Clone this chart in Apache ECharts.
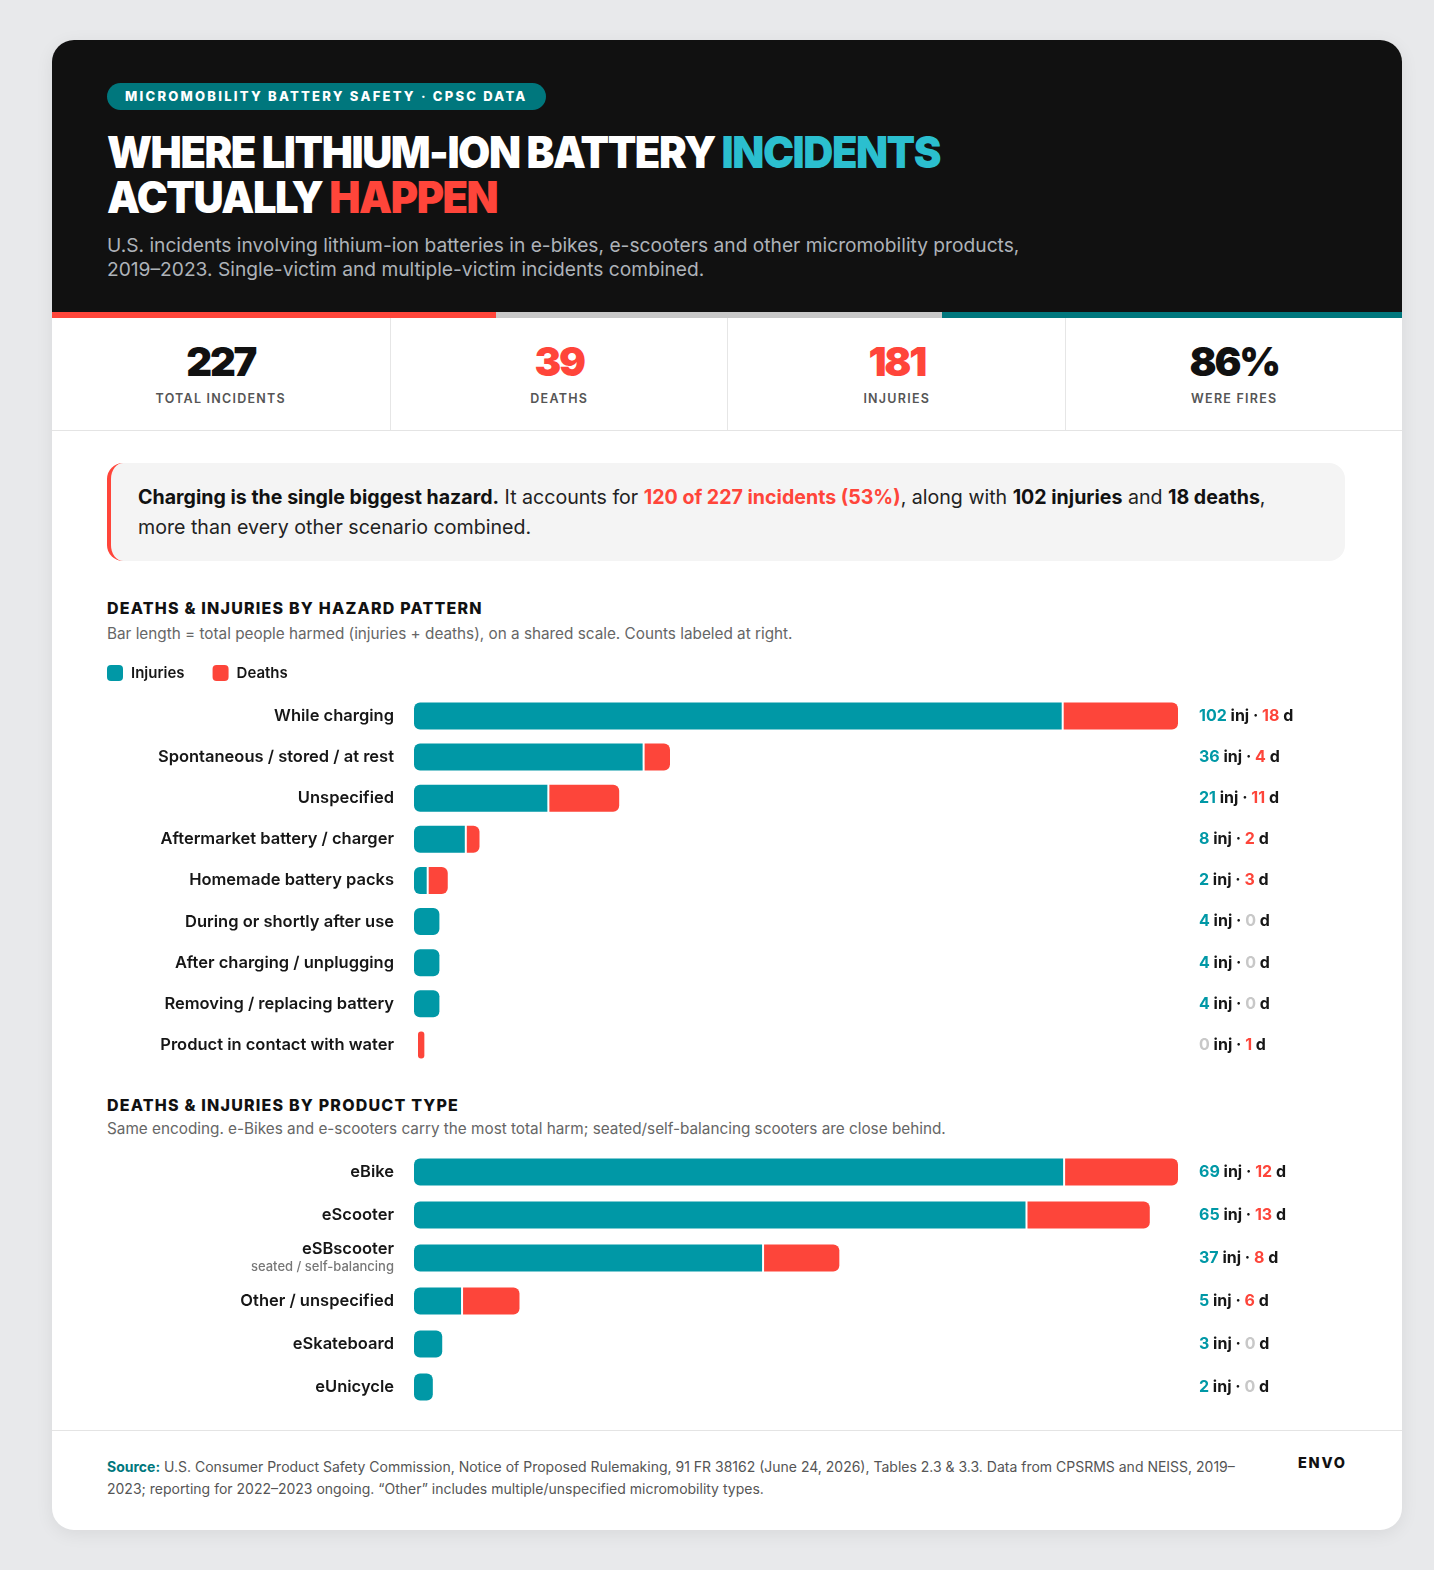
<!DOCTYPE html>
<html>
<head>
<meta charset="utf-8">
<script src="https://cdn.jsdelivr.net/npm/echarts@6/dist/echarts.min.js"></script>
<style>
  html,body{margin:0;padding:0;}
  body{width:1434px;height:1570px;background:#e8e9eb;font-family:Inter,"Noto Sans",sans-serif;position:relative;overflow:hidden;}
  .card{position:absolute;left:52px;top:40px;width:1350px;height:1490px;background:#fff;border-radius:22px;overflow:hidden;box-shadow:0 4px 18px rgba(0,0,0,0.07);}
  .abs{position:absolute;}
  .header{left:0;top:0;width:1350px;height:272px;background:#111111;}
  .pill{left:55px;top:43px;height:27px;line-height:27px;padding:0 18px;border-radius:14px;background:#00777d;color:#fff;font-weight:800;font-size:13px;letter-spacing:2.25px;white-space:nowrap;}
  .title{left:55px;top:90px;color:#fff;font-weight:900;font-size:44px;line-height:45px;letter-spacing:-0.035em;white-space:nowrap;}
  .title .ln{display:block;transform-origin:0 50%;width:max-content;}
  .hl1{color:#2bbfcf;} .hl2{color:#ff453a;}
  .sub{left:55px;top:193px;color:#aeb3b9;font-size:19.2px;line-height:24px;width:930px;}
  .tri{top:272px;height:6px;}
  .stats{left:0;top:278px;width:1350px;height:112px;border-bottom:1px solid #e4e4e4;}
  .cell{position:absolute;top:0;height:112px;width:337.5px;text-align:center;}
  .cell+.cell{border-left:1px solid #e6e6e6;}
  .num{position:absolute;left:0;right:0;top:21px;font-size:40px;line-height:46px;font-weight:900;letter-spacing:-0.055em;}
  .lab{position:absolute;left:0;right:0;top:73px;font-size:12.5px;line-height:16px;font-weight:600;letter-spacing:0.1em;color:#555;}
  .callout{left:55px;top:423px;width:1238px;height:98px;background:#f4f4f4;border-radius:16px;border-left:4px solid #ff453a;box-sizing:border-box;padding:19px 0 0 27px;font-size:19.6px;line-height:30px;color:#222;white-space:nowrap;}
  .callout b{font-weight:700;color:#111;}
  .callout .red{color:#ff453a;font-weight:700;}
  .sect{left:55px;font-size:16px;line-height:20px;font-weight:800;letter-spacing:0.075em;color:#111;}
  .sectsub{left:55px;font-size:15.3px;line-height:18px;color:#666;white-space:nowrap;}
  .footer{left:0;top:1390px;width:1350px;height:100px;border-top:1px solid #e4e4e4;}
  .src{position:absolute;left:55px;top:25px;width:1145px;font-size:14px;line-height:22px;color:#555;}
  .src b{color:#00777d;font-weight:700;}
  .envo{position:absolute;left:1246px;top:23px;font-size:14.5px;font-weight:800;letter-spacing:0.12em;color:#111;}
</style>
</head>
<body>
<div class="card">
  <div class="abs header"></div>
  <div class="abs pill">MICROMOBILITY BATTERY SAFETY · CPSC DATA</div>
  <div class="abs title" id="title">
    <span class="ln" id="t1">WHERE LITHIUM-ION BATTERY <span class="hl1">INCIDENTS</span></span>
    <span class="ln" id="t2">ACTUALLY <span class="hl2">HAPPEN</span></span>
  </div>
  <div class="abs sub">U.S. incidents involving lithium-ion batteries in e-bikes, e-scooters and other micromobility products, 2019–2023. Single-victim and multiple-victim incidents combined.</div>
  <div class="abs tri" style="left:0;width:444px;background:#ff453a;"></div>
  <div class="abs tri" style="left:444px;width:446px;background:#c8c8c8;"></div>
  <div class="abs tri" style="left:890px;width:460px;background:#00777d;"></div>
  <div class="abs stats" id="stats"></div>
  <div class="abs callout"><b>Charging is the single biggest hazard.</b> It accounts for <span class="red">120 of 227 incidents (53%)</span>, along with <b>102 injuries</b> and <b>18 deaths</b>,<br>more than every other scenario combined.</div>
  <div class="abs sect" style="top:558px;">DEATHS &amp; INJURIES BY HAZARD PATTERN</div>
  <div class="abs sectsub" style="top:585px;">Bar length = total people harmed (injuries + deaths), on a shared scale. Counts labeled at right.</div>
  <div class="abs" id="chart1" style="left:0;top:615px;width:1350px;height:420px;"></div>
  <div class="abs sect" style="top:1055px;">DEATHS &amp; INJURIES BY PRODUCT TYPE</div>
  <div class="abs sectsub" style="top:1080px;">Same encoding. e-Bikes and e-scooters carry the most total harm; seated/self-balancing scooters are close behind.</div>
  <div class="abs" id="chart2" style="left:0;top:1100px;width:1350px;height:280px;"></div>
  <div class="abs footer">
    <div class="src"><b>Source:</b> U.S. Consumer Product Safety Commission, Notice of Proposed Rulemaking, 91 FR 38162 (June 24, 2026), Tables 2.3 &amp; 3.3. Data from CPSRMS and NEISS, 2019–<wbr>2023; reporting for 2022–2023 ongoing. “Other” includes multiple/unspecified micromobility types.</div>
    <div class="envo">ENVO</div>
  </div>
</div>
<script>
// ---------- DATA ----------
const statValues = ['227', '39', '181', '86%'];
const statLabels = ['TOTAL INCIDENTS', 'DEATHS', 'INJURIES', 'WERE FIRES'];
const statColors = ['#111111', '#ff453a', '#ff453a', '#111111'];

const hazardCategories = ['While charging', 'Spontaneous / stored / at rest', 'Unspecified', 'Aftermarket battery / charger', 'Homemade battery packs', 'During or shortly after use', 'After charging / unplugging', 'Removing / replacing battery', 'Product in contact with water'];
const hazardInjuries = [102, 36, 21, 8, 2, 4, 4, 4, 0];
const hazardDeaths = [18, 4, 11, 2, 3, 0, 0, 0, 1];

const productCategories = ['eBike', 'eScooter', 'eSBscooter', 'Other / unspecified', 'eSkateboard', 'eUnicycle'];
const productSubLabels = ['', '', 'seated / self-balancing', '', '', ''];
const productInjuries = [69, 65, 37, 5, 3, 2];
const productDeaths = [12, 13, 8, 6, 0, 0];

// ---------- STATS ----------
const statsEl = document.getElementById('stats');
statValues.forEach((v, i) => {
  const c = document.createElement('div');
  c.className = 'cell';
  c.style.left = (i * 337.5) + 'px';
  c.innerHTML = '<div class="num" style="color:' + statColors[i] + '">' + v + '</div><div class="lab">' + statLabels[i] + '</div>';
  statsEl.appendChild(c);
});

// ---------- TITLE FIT ----------
function fitTitle() {
  const t1 = document.getElementById('t1'), t2 = document.getElementById('t2');
  const w = t1.getBoundingClientRect().width;
  const k = 833 / w;
  t1.style.transform = 'scaleX(' + k + ')';
  t2.style.transform = 'scaleX(' + k + ')';
}

// ---------- CHARTS ----------
const TEAL = '#0098a6', RED = '#fd453a', GREY0 = '#c8c8c8', INK = '#161616';
const FONT = 'Inter';

function renderSeg(kind, injArr, dArr) {
  return function (params, api) {
    const i = params.dataIndex;
    const inj = injArr[i], d = dArr[i];
    const p0 = api.coord([0, i]);
    const xi = api.coord([inj, i])[0];
    const h = 27, y = p0[1] - h / 2, x0 = p0[0];
    if (kind === 'inj') {
      if (inj <= 0) return null;
      return { type: 'rect', shape: { x: x0, y: y, width: xi - x0, height: h, r: d > 0 ? [6, 0, 0, 6] : 6 }, style: { fill: TEAL } };
    } else {
      if (d <= 0) return null;
      const gap = inj > 0 ? 2 : 4;
      const w = api.coord([d, i])[0] - x0;
      return { type: 'rect', shape: { x: xi + gap, y: y, width: w, height: h, r: inj > 0 ? [0, 6, 6, 0] : 3 }, style: { fill: RED } };
    }
  };
}

function valueLabel(injArr, dArr) {
  return function (v, i) {
    const a = injArr[i], b = dArr[i];
    return '{' + (a > 0 ? 'ti' : 'tz') + '|' + a + '}{t| inj · }{' + (b > 0 ? 'tr' : 'tz') + '|' + b + '}{t| d}';
  };
}

const richVals = {
  ti: { color: TEAL, fontWeight: 700, fontSize: 16, fontFamily: FONT },
  tr: { color: RED, fontWeight: 700, fontSize: 16, fontFamily: FONT },
  tz: { color: GREY0, fontWeight: 700, fontSize: 16, fontFamily: FONT },
  t: { color: INK, fontWeight: 700, fontSize: 16, fontFamily: FONT }
};

function buildOption(cats, subs, injArr, dArr, gridTop, gridH, withLegend) {
  const totals = injArr.map((v, i) => v + dArr[i]);
  const maxT = Math.max.apply(null, totals);
  const data = injArr.map((v, i) => [v, i]);
  const opt = {
    animation: false,
    grid: { left: 362, width: 762, top: gridTop, height: gridH },
    xAxis: { type: 'value', min: 0, max: maxT, show: false },
    yAxis: [
      {
        type: 'category', data: cats, inverse: true,
        axisLine: { show: false }, axisTick: { show: false }, splitLine: { show: false },
        axisLabel: {
          margin: 20, align: 'right',
          formatter: function (v, i) { return subs && subs[i] ? '{a|' + v + '}\n{b|' + subs[i] + '}' : '{a|' + v + '}'; },
          rich: {
            a: { fontSize: 16.5, fontWeight: 600, color: INK, fontFamily: FONT, lineHeight: 19, align: 'right' },
            b: { fontSize: 13, fontWeight: 500, color: '#777', fontFamily: FONT, lineHeight: 17, align: 'right' }
          }
        }
      },
      {
        type: 'category', data: cats, inverse: true, position: 'right',
        axisLine: { show: false }, axisTick: { show: false }, splitLine: { show: false },
        axisLabel: { margin: 23, align: 'left', formatter: valueLabel(injArr, dArr), rich: richVals }
      }
    ],
    series: [
      { name: 'Injuries', type: 'custom', renderItem: renderSeg('inj', injArr, dArr), data: data, encode: { x: 0, y: 1 }, itemStyle: { color: TEAL } },
      { name: 'Deaths', type: 'custom', renderItem: renderSeg('d', injArr, dArr), data: data, encode: { x: 0, y: 1 }, itemStyle: { color: RED } }
    ]
  };
  if (withLegend) {
    opt.legend = {
      data: ['Injuries', 'Deaths'], left: 50, top: 5, icon: 'roundRect', itemWidth: 16, itemHeight: 16, itemGap: 28,
      selectedMode: false,
      textStyle: { fontSize: 15, fontWeight: 600, color: INK, fontFamily: FONT, padding: [0, 0, 0, 3] }
    };
  }
  return opt;
}

function draw() {
  fitTitle();
  const c1 = echarts.init(document.getElementById('chart1'));
  c1.setOption(buildOption(hazardCategories, null, hazardInjuries, hazardDeaths, 40.4, 370.1, true));
  const c2 = echarts.init(document.getElementById('chart2'));
  c2.setOption(buildOption(productCategories, productSubLabels, productInjuries, productDeaths, 10.5, 258, false));
}
if (document.fonts && document.fonts.ready) { document.fonts.ready.then(draw); } else { draw(); }
</script>
</body>
</html>
